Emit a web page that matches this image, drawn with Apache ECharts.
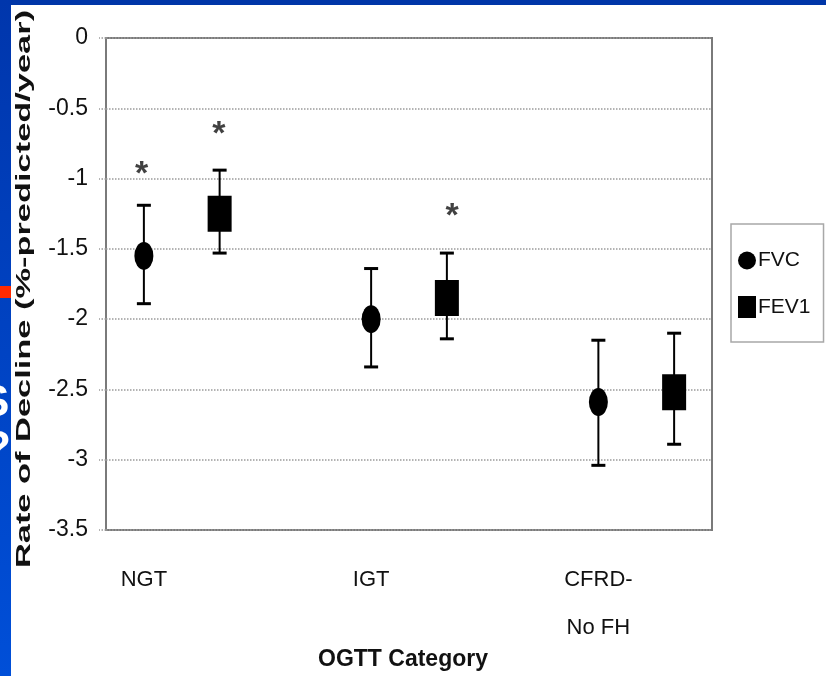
<!DOCTYPE html>
<html>
<head>
<meta charset="utf-8">
<script src="https://cdn.jsdelivr.net/npm/echarts@6.0.0/dist/echarts.min.js"></script>
<style>
  html, body { margin: 0; padding: 0; background: #fff; }
  #chart { width: 826px; height: 676px; }
</style>
</head>
<body>
<div id="chart"></div>
<script>
// OGTT categories and x positions of each group (value axis 0..8)
const categories = ['NGT', 'IGT', 'CFRD-\nNo FH']
const groupX = [0.5, 3.5, 6.5]
const fev1Shift = 1

// rate of decline, %-predicted/year
const fvcMean = [-1.55, -2.0, -2.59]
const fvcUpper = [-1.19, -1.64, -2.15]
const fvcLower = [-1.89, -2.34, -3.04]
const fev1Mean = [-1.25, -1.85, -2.52]
const fev1Upper = [-0.94, -1.53, -2.10]
const fev1Lower = [-1.53, -2.14, -2.89]

// significance marks [x, y]
const stars = [[0.47, -0.91], [1.49, -0.62], [4.57, -1.21]]

const yTicks = { min: -3.5, max: 0, interval: 0.5 }

const sans = '"Liberation Sans", Arial, sans-serif'
const ellipse = 'path://M10,0A10,10 0 1 1 10,20A10,10 0 1 1 10,0Z'

const fvcX = groupX
const fev1X = groupX.map(x => x + fev1Shift)

function errBar (params, api) {
  const x = api.value(0)
  const top = api.coord([x, api.value(1)])
  const bot = api.coord([x, api.value(2)])
  const cap = 7
  const style = { stroke: '#000', lineWidth: 2 }
  const capStyle = { stroke: '#000', lineWidth: 3 }
  return {
    type: 'group',
    children: [
      { type: 'line', shape: { x1: top[0], y1: top[1], x2: bot[0], y2: bot[1] }, style: style },
      { type: 'line', shape: { x1: top[0] - cap, y1: top[1], x2: top[0] + cap, y2: top[1] }, style: capStyle },
      { type: 'line', shape: { x1: bot[0] - cap, y1: bot[1], x2: bot[0] + cap, y2: bot[1] }, style: capStyle }
    ]
  }
}

const chart = echarts.init(document.getElementById('chart'))
chart.setOption({
  animation: false,
  backgroundColor: '#fff',
  graphic: [
    { type: 'rect', left: 0, top: 0, shape: { width: 826, height: 5 }, style: { fill: '#0036a8' }, z: 10 },
    {
      type: 'rect', left: 0, top: 0, shape: { width: 11, height: 676 }, z: 10,
      style: { fill: new echarts.graphic.LinearGradient(0, 0, 0, 1, [
        { offset: 0, color: '#0036ac' }, { offset: 1, color: '#004fd8' }
      ]) }
    },
    { type: 'rect', left: 0, top: 286, shape: { width: 11, height: 12 }, style: { fill: '#ff2a00' }, z: 11 },
    { type: 'text', x: -20, y: 382, z: 11, style: { text: 'S', fill: '#fff', font: 'bold 44px "Liberation Sans"' } },
    { type: 'text', x: -16, y: 428, z: 11, style: { text: '?', fill: '#fff', font: 'bold 44px "Liberation Sans"' } },
    {
      type: 'text', x: 24, y: 289, rotation: Math.PI / 2, scaleX: 1.72, z: 5,
      style: {
        text: 'Rate of Decline (%-predicted/year)',
        fill: '#111',
        font: 'bold 20px "Liberation Sans", Arial, sans-serif',
        align: 'center',
        verticalAlign: 'middle'
      }
    }
  ],
  legend: {
    orient: 'vertical',
    left: 731,
    top: 224,
    padding: [26, 13, 24, 7],
    itemGap: 25,
    itemWidth: 18,
    itemHeight: 22,
    borderColor: '#a8a8a8',
    borderWidth: 1.5,
    selectedMode: false,
    textStyle: { fontFamily: sans, fontSize: 21, color: '#111', padding: [0, 0, 0, -3] },
    data: [
      { name: 'FVC', icon: 'circle' },
      { name: 'FEV1', icon: 'rect' }
    ]
  },
  grid: {
    left: 106,
    top: 38,
    width: 606,
    height: 492,
    outerBoundsMode: 'none',
    show: true,
    borderColor: '#7a7a7a',
    borderWidth: 2
  },
  xAxis: {
    type: 'value',
    min: 0,
    max: 8,
    interval: 0.5,
    axisLine: { show: false },
    axisTick: { show: false },
    splitLine: { show: false },
    axisLabel: {
      margin: 26,
      fontFamily: sans,
      fontSize: 22,
      lineHeight: 48,
      color: '#111',
      formatter: v => {
        const i = groupX.indexOf(v)
        return i >= 0 ? categories[i] : ''
      }
    },
    name: 'OGTT Category',
    nameLocation: 'middle',
    nameGap: 118,
    nameMoveOverlap: false,
    nameTextStyle: { fontFamily: sans, fontSize: 23, fontWeight: 'bold', color: '#111', padding: [0, 12, 0, 0] }
  },
  yAxis: {
    type: 'value',
    min: yTicks.min,
    max: yTicks.max,
    interval: yTicks.interval,
    axisLine: { show: false },
    axisTick: { show: true, length: 7, lineStyle: { color: '#9a9a9a', width: 1.5, type: 'dotted' } },
    splitLine: { lineStyle: { color: '#9a9a9a', width: 1.5, type: 'dotted' } },
    axisLabel: { margin: 18, fontFamily: sans, fontSize: 23, color: '#111' }
  },
  series: [
    {
      name: 'FVC err',
      type: 'custom',
      renderItem: errBar,
      data: fvcX.map((x, i) => [x, fvcUpper[i], fvcLower[i]]),
      z: 2
    },
    {
      name: 'FEV1 err',
      type: 'custom',
      renderItem: errBar,
      data: fev1X.map((x, i) => [x, fev1Upper[i], fev1Lower[i]]),
      z: 2
    },
    {
      name: 'FVC',
      type: 'scatter',
      symbol: ellipse,
      symbolSize: [19, 28],
      itemStyle: { color: '#000', opacity: 1 },
      data: fvcX.map((x, i) => [x, fvcMean[i]]),
      z: 3
    },
    {
      name: 'FEV1',
      type: 'scatter',
      symbol: 'rect',
      symbolSize: [24, 36],
      itemStyle: { color: '#000', opacity: 1 },
      data: fev1X.map((x, i) => [x, fev1Mean[i]]),
      z: 3
    },
    {
      name: 'sig',
      type: 'scatter',
      symbolSize: 0,
      silent: true,
      data: stars,
      label: {
        show: true,
        position: 'inside',
        formatter: '*',
        fontFamily: sans,
        fontWeight: 'bold',
        fontSize: 34,
        color: '#111',
        offset: [0, 9]
      },
      z: 3
    }
  ]
})
</script>
</body>
</html>
